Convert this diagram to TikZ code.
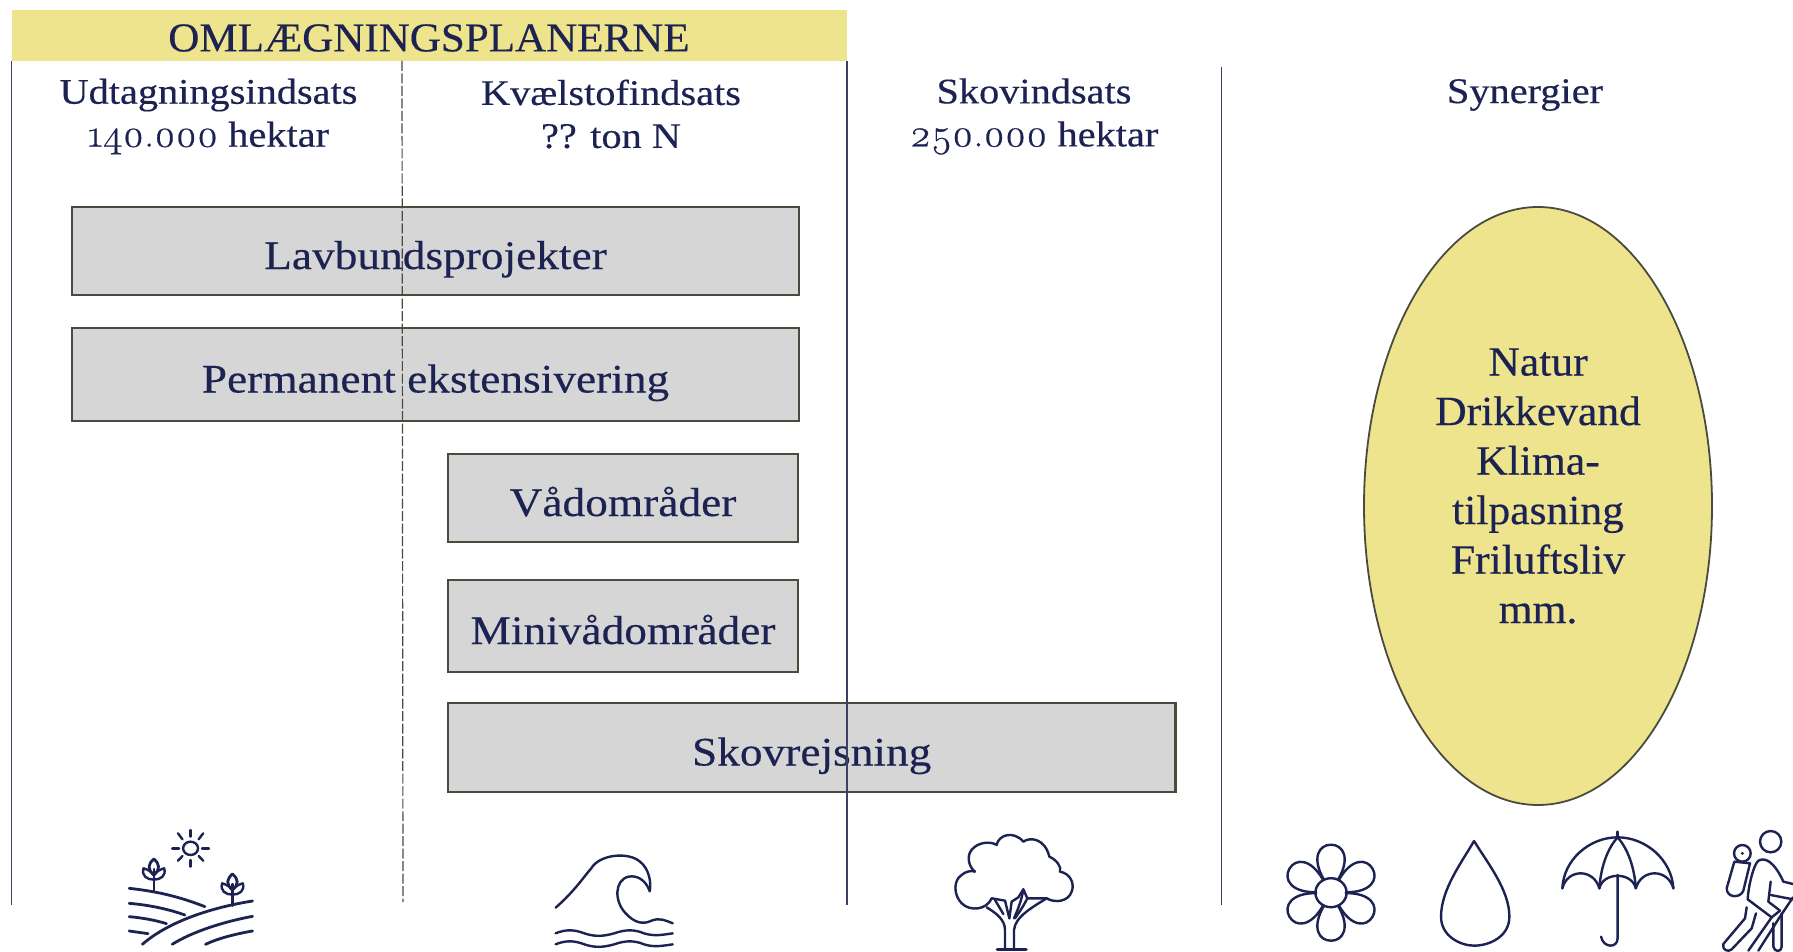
\documentclass[tikz,border=0pt]{standalone}
\usepackage{fontspec}
\setmainfont[FakeStretch=1.12,FakeBold=0.35]{Liberation Serif}
\newfontfamily\elfont[FakeStretch=1.05,FakeBold=0.35]{Liberation Serif}
\newfontfamily\osf[Numbers=OldStyle,FakeStretch=1.05,FakeBold=0.6,Scale=1.08]{Latin Modern Roman}
\usetikzlibrary{shapes.geometric}
\definecolor{navy}{HTML}{1C2352}
\definecolor{rule}{HTML}{3C4163}
\definecolor{straw}{HTML}{EDE48D}
\definecolor{boxgrey}{HTML}{D6D6D6}
\definecolor{boxedge}{HTML}{4A4A3E}
\newcommand{\fsz}[2]{\fontsize{#1}{#2}\selectfont}
\tikzset{
  x=1pt,y=-1pt,
  planbox/.style={draw=boxedge,line width=2.2pt,fill=boxgrey,inner sep=0pt,text=navy,font=\fsz{40.5}{50},text height=37pt,text depth=1pt},
  header/.style={text=navy,font=\fsz{36}{43},align=center,inner sep=0pt},
  divider/.style={draw=rule,line width=1.7pt},
  icon/.style={draw=navy,line width=2.4pt,line cap=round,line join=round},
  zoomA/.style={shift={(0,780)},x=.574pt,y=-.3333pt},
  zoomB/.style={shift={(900,780)},x=.5695pt,y=-.3333pt},
}
\newcommand{\sprig}[2]{%
  \draw[icon] (#1,#2+95) -- (#1,#2+30);
  \draw[icon,line width=2.8pt] (#1,#2) .. controls (#1-10,#2+15) and (#1-12,#2+30) .. (#1,#2+48) .. controls (#1+12,#2+30) and (#1+10,#2+15) .. cycle;
  \draw[icon] (#1-18,#2+28) .. controls (#1-22,#2+50) and (#1-12,#2+62) .. (#1,#2+62) .. controls (#1+12,#2+62) and (#1+22,#2+50) .. (#1+18,#2+28) .. controls (#1+10,#2+32) and (#1+4,#2+38) .. (#1,#2+48) .. controls (#1-4,#2+38) and (#1-10,#2+32) .. cycle;
}
\begin{document}
\begin{tikzpicture}
\useasboundingbox (0,0) rectangle (1793,952);
\fill[white] (0,0) rectangle (1793,952);
% title band
\node[fill=straw,minimum width=835.5pt,minimum height=51pt,inner sep=0pt,anchor=north west] (band) at (11.5,10) {};
\node[text=navy,font=\elfont\fsz{41}{44},inner sep=0pt] (title) at (429,38) {OMLÆGNINGSPLANERNE};
% boxes
\node[planbox,minimum width=727pt,minimum height=88pt] (lav) at (435.5,251) {Lavbundsprojekter};
\node[planbox,minimum width=727pt,minimum height=93pt] (perm) at (435.5,374.5) {Permanent ekstensivering};
\node[planbox,minimum width=350pt,minimum height=88pt] (vaad) at (623,498) {Vådområder};
\node[planbox,minimum width=350pt,minimum height=92pt] (mini) at (623,626) {Minivådområder};
\node[planbox,minimum width=727.5pt,minimum height=89pt] (skov) at (811.7,747.5) {Skovrejsning};
% dividers
\draw[divider] (11.5,61) -- (11.5,905);
\draw[divider,draw=boxedge,line width=1.2pt,dash pattern=on 10pt off 2.5pt] (402,61) -- (403,902);
\draw[divider] (847,61) -- (847,905);
\draw[divider] (1221.5,67) -- (1221.5,905);
% headers
\node[header] (h1) at (208.5,116.5) {Udtagningsindsats\\{\osf 140.000} hektar};
\node[header] (h2) at (611,114) {Kvælstofindsats\\?? ton N};
\node[header] (h3) at (1034,116.5) {Skovindsats\\{\osf 250.000} hektar};
\node[header] (h4) at (1525,95) {Synergier};
% ellipse
\node[ellipse,draw=boxedge,line width=1.8pt,fill=straw,minimum width=348pt,minimum height=598pt,inner sep=0pt] (syn) at (1538,506) {};
\node[text=navy,font=\elfont\fsz{41.5}{49.5},align=center,inner sep=0pt] (syntext) at (1538,486) {Natur\\Drikkevand\\Klima-\\tilpasning\\Friluftsliv\\mm.};
% landscape icon
\begin{scope}[zoomA]
  \draw[icon] (332,205) ellipse (13 and 20);
  \foreach \a/\b/\c/\d in {332/150/332/170, 332/240/332/260, 300/205/312/205, 352/205/364/205, 310/160/318/178, 354/160/346/178, 310/242/318/228, 354/242/346/228}
    \draw[icon] (\a,\b) -- (\c,\d);
  \sprig{268}{237}
  \sprig{405}{282}
  \draw[icon,line width=2.8pt] (225,325) .. controls (280,335) and (320,355) .. (357,380);
  \draw[icon,line width=2.8pt] (225,370) .. controls (260,375) and (295,388) .. (322,405);
  \draw[icon,line width=2.8pt] (225,410) .. controls (245,413) and (270,420) .. (290,431);
  \draw[icon,line width=2.8pt] (225,453) -- (258,461);
  \draw[icon,line width=2.8pt] (248,493) .. controls (290,430) and (360,385) .. (440,363);
  \draw[icon,line width=2.8pt] (300,493) .. controls (335,455) and (390,425) .. (440,409);
  \draw[icon,line width=2.8pt] (358,493) .. controls (380,475) and (410,462) .. (440,453);
  % wave
  \draw[icon] (968,383) .. controls (1000,335) and (1015,295) .. (1030,265) .. controls (1045,222) and (1095,215) .. (1115,245) .. controls (1130,265) and (1135,305) .. (1132,334) .. controls (1125,300) and (1110,285) .. (1095,290) .. controls (1070,300) and (1070,365) .. (1090,400) .. controls (1105,428) and (1120,435) .. (1135,422) .. controls (1150,412) and (1160,422) .. (1172,430);
  \foreach \y in {460,493}
    \draw[icon] (968,\y) .. controls (985,\y-12) and (1000,\y-12) .. (1018,\y) .. controls (1035,\y+10) and (1050,\y+10) .. (1070,\y) .. controls (1090,\y-12) and (1105,\y-12) .. (1122,\y) .. controls (1140,\y+10) and (1155,\y+4) .. (1172,\y);
\end{scope}
% tree icon
\begin{scope}[shift={(940,820)},x=.3333pt,y=-.3333pt]
  \draw[icon] (155,235) .. controls (140,270) and (90,275) .. (65,250) .. controls (40,225) and (40,180) .. (65,165) .. controls (75,155) and (95,150) .. (105,155) .. controls (85,140) and (75,100) .. (105,80) .. controls (125,65) and (155,65) .. (170,75) .. controls (175,45) and (220,30) .. (250,65) .. controls (270,50) and (315,55) .. (328,110) .. controls (350,120) and (365,140) .. (360,155) .. controls (390,160) and (405,190) .. (395,215) .. controls (385,245) and (345,250) .. (320,235);
  \draw[icon] (140,262) .. controls (170,280) and (195,300) .. (195,330) -- (195,385);
  \draw[icon] (320,235) .. controls (280,260) and (225,290) .. (222,330) -- (222,385);
  \draw[icon] (155,235) -- (195,242) -- (208,295);
  \draw[icon] (165,240) -- (190,282);
  \draw[icon] (215,245) -- (208,295);
  \draw[icon] (215,245) -- (235,232) -- (250,208) -- (262,235) -- (320,235);
  \draw[icon] (250,208) .. controls (245,240) and (235,265) .. (222,295);
  \draw[icon] (262,235) .. controls (250,260) and (235,280) .. (225,295);
  \draw[icon,line width=3.6pt] (172,388) -- (258,388);
\end{scope}
% flower
\begin{scope}[shift={(1331,892.7)}]
  \draw[icon] (0,0) ellipse (15.6 and 14.5);
  \foreach \r in {0,60,120,180,240,300}
    \draw[icon,rotate=\r] (-7,-13) .. controls (-20,-35) and (-12,-48) .. (0,-48) .. controls (12,-48) and (20,-35) .. (7,-13);
\end{scope}
\begin{scope}[zoomB]
  % drop
  \draw[icon] (1008,183) .. controls (985,250) and (950,330) .. (950,410) .. controls (950,470) and (985,497) .. (1008,497) .. controls (1035,497) and (1070,470) .. (1070,410) .. controls (1070,330) and (1032,250) .. cycle;
  % umbrella
  \draw[icon] (1260,155) -- (1260,172);
  \draw[icon] (1163,325) .. controls (1165,240) and (1210,172) .. (1260,172) .. controls (1310,172) and (1355,240) .. (1358,325);
  \draw[icon] (1163,325) .. controls (1172,265) and (1218,265) .. (1228,325) .. controls (1235,275) and (1285,275) .. (1292,325) .. controls (1302,265) and (1348,265) .. (1358,325);
  \draw[icon] (1260,172) .. controls (1240,210) and (1230,270) .. (1228,325);
  \draw[icon] (1260,172) .. controls (1280,210) and (1290,270) .. (1292,325);
  \draw[icon] (1260,285) -- (1260,475) .. controls (1260,505) and (1235,505) .. (1231,470);
\end{scope}
% hiker
\begin{scope}[shift={(1680,820)},x=.3333pt,y=-.3333pt]
  \draw[icon] (272,65) circle (32);
  \draw[icon] (187,100) circle (25);
  \fill[navy] (187,100) circle (5);
  \draw[icon] (163,125) -- (210,130) -- (190,212) .. controls (182,235) and (140,235) .. (140,205) -- cycle;
  \draw[icon] (339,192) -- (310,185) .. controls (295,150) and (265,105) .. (235,122) .. controls (220,135) and (205,200) .. (203,238) -- (275,292) -- (300,272) -- (265,245) -- (272,185);
  \draw[icon] (272,225) -- (339,238);
  \draw[icon] (339,232) -- (300,290) -- (235,392);
  \draw[icon] (200,262) -- (195,295) -- (130,372) .. controls (125,390) and (145,398) .. (155,388) -- (215,325) -- (228,280);
  \draw[icon] (275,292) -- (205,392);
  \draw[icon] (280,310) -- (280,380) .. controls (283,397) and (305,397) .. (305,380) -- (305,280);
\end{scope}
\end{tikzpicture}
\end{document}
